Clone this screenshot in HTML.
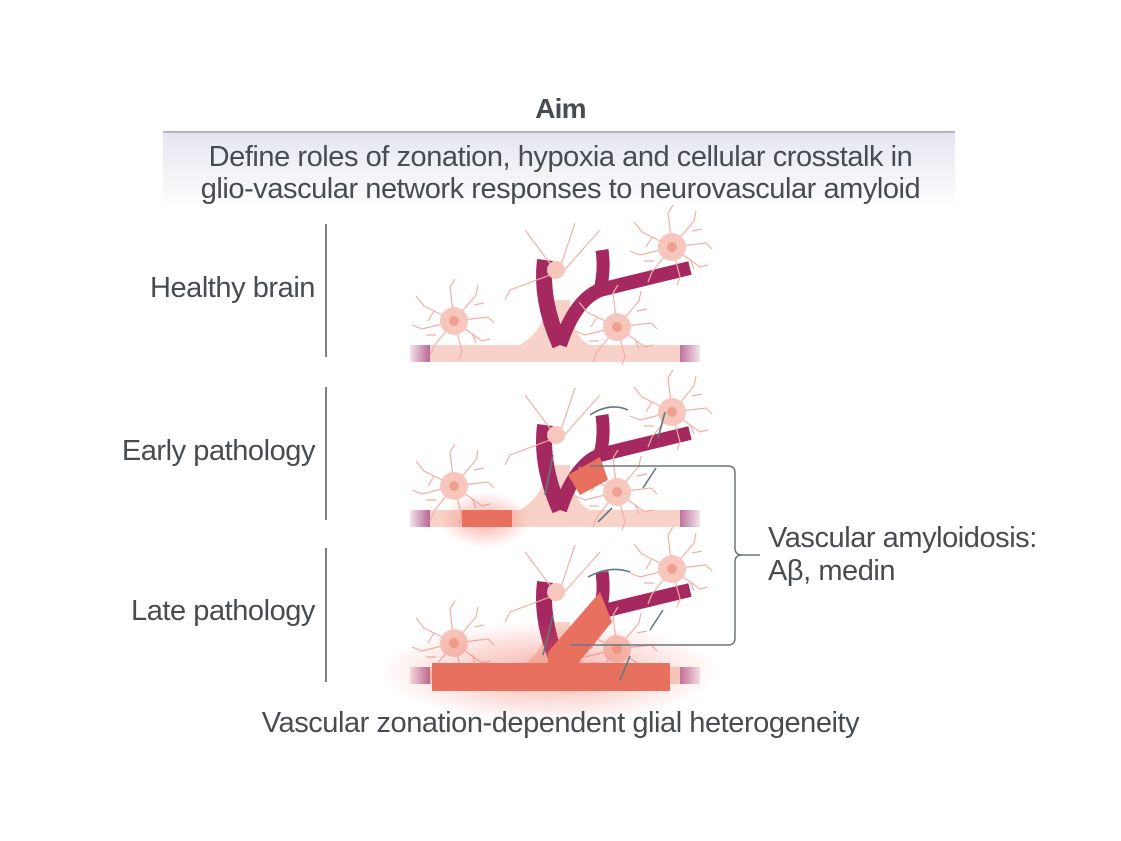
<!DOCTYPE html>
<html><head><meta charset="utf-8"><style>
html,body{margin:0;padding:0;background:#fff;}
body{width:1121px;height:841px;position:relative;overflow:hidden;font-family:"Liberation Sans",Arial,sans-serif;color:#474c52;}
.t{position:absolute;white-space:nowrap;}
.L{font-size:29px;letter-spacing:-0.45px;}
</style></head><body>
<svg width="1121" height="841" style="position:absolute;left:0;top:0">
<defs>
<linearGradient id="hb" x1="0" y1="0" x2="0" y2="1"><stop offset="0" stop-color="#e6e6f0"/><stop offset="1" stop-color="#fff"/></linearGradient>
<radialGradient id="glow"><stop offset="0" stop-color="#ee6a5a" stop-opacity="0.55"/><stop offset="1" stop-color="#ee6a5a" stop-opacity="0"/></radialGradient>
<linearGradient id="cap" x1="0" x2="1"><stop offset="0" stop-color="#f3e3ec"/><stop offset="1" stop-color="#b25a8c"/></linearGradient>
<linearGradient id="cap2" x1="1" x2="0"><stop offset="0" stop-color="#f3e3ec"/><stop offset="1" stop-color="#b25a8c"/></linearGradient>
<g id="cell" stroke="#f0b0a8" stroke-width="1.2" fill="none">
<path d="M0 0 l-30 -15 l-8 -10 M0 0 l-32 8 l-10 -4 M0 0 l-20 25 l-4 10 M0 0 l8 30 l-3 8 M0 0 l28 20 l8 -2 M0 0 l34 -4 l6 6 M0 0 l22 -26 l2 -10 M0 0 l-4 -34 l5 -8 M-20 -10 l-6 10 M20 -16 l10 -2 M-18 14 l-10 0 M18 12 l4 10"/>
<circle r="14" fill="#f7c6bc" stroke="none"/><circle r="5" fill="#f0a090" stroke="none"/>
</g>
<g id="base">
<rect x="410" y="345" width="22" height="17" fill="url(#cap)"/>
<rect x="676" y="345" width="24" height="17" fill="url(#cap2)"/>
<rect x="430" y="345" width="250" height="17" fill="#f8d2c8"/>
<path d="M520 345 Q545 330 548 300 L570 300 Q570 335 590 345Z" fill="#f8d2c8"/>
<path d="M545 260 Q540 300 560 345" stroke="#a5285f" stroke-width="16" fill="none"/>
<path d="M560 345 Q575 300 600 290 Q640 280 690 268" stroke="#a5285f" stroke-width="14" fill="none"/>
<path d="M600 290 Q605 270 602 250" stroke="#a5285f" stroke-width="13" fill="none"/>
<use href="#cell" x="454" y="321"/>
<use href="#cell" x="617" y="327"/>
<use href="#cell" x="672" y="247"/>
<g stroke="#f0b0a8" stroke-width="1.2" fill="none"><path d="M555 270 l-30 -40 M560 268 l15 -45 M560 275 l40 -45 M550 275 l-40 15 l-5 10"/></g>
<circle cx="556" cy="270" r="9" fill="#f7c6bc"/>
</g>
</defs>
<rect x="163" y="133" width="792" height="78" fill="url(#hb)"/>
<line x1="163" y1="132" x2="955" y2="132" stroke="#9c9cb0" stroke-width="1.5"/>
<g stroke="#555" stroke-width="1.5">
<line x1="326" y1="224" x2="326" y2="357"/><line x1="326" y1="387" x2="326" y2="520"/><line x1="326" y1="548" x2="326" y2="682"/>
</g>
<use href="#base"/>
<g transform="translate(0,165)"><use href="#base"/>
<ellipse cx="485" cy="355" rx="45" ry="28" fill="url(#glow)"/>
<rect x="462" y="345" width="50" height="17" fill="#e8705f"/>
<path d="M568 310 L600 292 L608 315 L580 330Z" fill="#e8705f"/>
</g>
<g transform="translate(0,322)"><use href="#base"/>
<ellipse cx="550" cy="350" rx="170" ry="50" fill="url(#glow)"/>
<rect x="432" y="341" width="238" height="28" fill="#e8705f"/>
<path d="M548 330 L600 270 L612 300 L575 345 L548 345Z" fill="#e8705f"/>
</g>
<g stroke="#5f7a80" stroke-width="1.6" fill="none">
<path d="M590 415 Q610 402 628 410"/><path d="M658 438 L665 412"/><path d="M545 495 L553 455"/><path d="M598 522 L612 508"/><path d="M643 488 L656 468"/>
<path d="M588 577 Q610 565 630 572"/><path d="M543 655 L553 615"/><path d="M650 630 L663 610"/><path d="M620 680 L630 656"/>
</g>
<g stroke="#6c767c" stroke-width="1.5" fill="none">
<path d="M590 466 H728 Q735 466 735 473 V548 Q735 555 742 555 H760"/>
<path d="M570 645 H728 Q735 645 735 638 V562 Q735 555 742 555"/>
</g>
</svg>
<div class="t" style="left:0;width:1121px;text-align:center;top:93px;font-size:28px;font-weight:bold;letter-spacing:-0.8px;">Aim</div>
<div class="t L" style="left:0;width:1121px;text-align:center;top:141px;line-height:32px;">Define roles of zonation, hypoxia and cellular crosstalk in<br>glio-vascular network responses to neurovascular amyloid</div>
<div class="t L" style="right:806px;top:272px;">Healthy brain</div>
<div class="t L" style="right:806px;top:435px;">Early pathology</div>
<div class="t L" style="right:806px;top:595px;">Late pathology</div>
<div class="t L" style="left:768px;top:522px;line-height:33px;">Vascular amyloidosis:<br>Aβ, medin</div>
<div class="t L" style="left:0;width:1121px;text-align:center;top:707px;">Vascular zonation-dependent glial heterogeneity</div>
</body></html>
